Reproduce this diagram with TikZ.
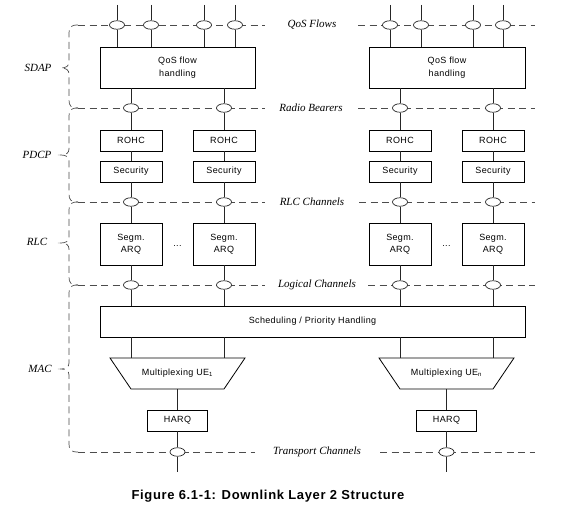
\documentclass[tikz,border=0pt]{standalone}
\usepackage{fontspec}
\setmainfont{Liberation Serif}
\newfontfamily\boxfont[LetterSpace=4]{Liberation Sans}
\newfontfamily\capfont[LetterSpace=5]{Liberation Sans}
\usetikzlibrary{backgrounds,calc,shapes.geometric}
\newcommand\mybrace[3]{%
  \draw[chan] (78,#1) .. controls (71,#1) and (69,#1+2) .. (69,#1+8) -- (69,#2-6)
    .. controls (69,#2-2) and (66,#2) .. (61,#2)
    .. controls (66,#2) and (69,#2+2) .. (69,#2+6) -- (69,#3-8)
    .. controls (69,#3-2) and (71,#3) .. (78,#3);}
\begin{document}
\begin{tikzpicture}[x=1pt,y=-1pt,
  box/.style={draw=black, line width=0.8pt, fill=white, inner sep=0pt, align=center,
    font=\boxfont\fontsize{9}{12.5}\selectfont},
  oval/.style={ellipse, draw=black!85, line width=0.7pt, fill=white,
    minimum width=15pt, minimum height=8.5pt, inner sep=0pt},
  conn/.style={draw=black!85, line width=0.7pt},
  chan/.style={draw=black!70, line width=0.7pt, dash pattern=on 7pt off 4.5pt},
  lbl/.style={font=\itshape\fontsize{11}{13}\selectfont, inner sep=0pt},
  boxtxt/.style={font=\boxfont\fontsize{9}{12}\selectfont, inner sep=0pt},
]
\useasboundingbox (0,0) rectangle (581,510);

% ---- boxes ----
\node[box, minimum width=155pt, minimum height=41pt] (qosL) at (177.5,67.5) {QoS flow\\handling};
\node[box, minimum width=156pt, minimum height=41pt] (qosR) at (447,67.5) {QoS flow\\handling};
\foreach \i/\x in {1/131,2/224,3/400,4/493}{
  \node[box, minimum width=62pt, minimum height=21pt] (rohc\i) at (\x,140.5) {ROHC};
  \node[box, minimum width=62pt, minimum height=21pt] (sec\i) at (\x,171.5) {Security};
  \node[box, minimum width=62pt, minimum height=42pt] (seg\i) at (\x,244) {Segm.\\ARQ};
}
\node[boxtxt] (dots1) at (177.5,246) {...};
\node[boxtxt] (dots2) at (446.5,246) {...};
\node[box, minimum width=425pt, minimum height=31pt] (sched) at (312.5,321.5) {Scheduling / Priority Handling};

% multiplexing trapeziums
\node[boxtxt] (mux1) at (177.5,373.5) {Multiplexing UE\textsubscript{1}};
\node[boxtxt] (mux2) at (446.5,373.5) {Multiplexing UE\textsubscript{n}};
\foreach \m in {mux1,mux2}{
  \draw[line width=0.8pt] ($(\m)+(-67.5,-15.5)$) -- ($(\m)+(67.5,-15.5)$)
     -- ($(\m)+(46.5,15.5)$) -- ($(\m)+(-46.5,15.5)$) -- cycle;
}
\coordinate (m1t) at (177.5,358);
\coordinate (m1b) at (177.5,389);
\coordinate (m2t) at (446.5,358);
\coordinate (m2b) at (446.5,389);

\node[box, minimum width=60pt, minimum height=21pt] (harq1) at (177.5,420.5) {HARQ};
\node[box, minimum width=60pt, minimum height=21pt] (harq2) at (446.5,420.5) {HARQ};

% ---- ovals ----
\foreach \n/\x in {f1/117,f2/151,f3/204,f4/235,f5/390,f6/421,f7/473,f8/503}{
  \node[oval] (\n) at (\x,25) {};
  \coordinate (\n t) at (\x,5);
}
\foreach \i/\x in {1/131,2/224,3/400,4/493}{
  \node[oval] (rb\i) at (\x,108) {};
  \node[oval] (rl\i) at (\x,202) {};
  \node[oval] (lc\i) at (\x,285) {};
}
\node[oval] (tc1) at (177.5,452) {};
\node[oval] (tc2) at (446.5,452) {};
\coordinate (tc1b) at (177.5,472);
\coordinate (tc2b) at (446.5,472);

% ---- channel labels ----
\node[lbl] (lq) at (312,25) {QoS Flows};
\node[lbl] (lr) at (311,108) {Radio Bearers};
\node[lbl] (lrl) at (312,202) {RLC Channels};
\node[lbl] (ll) at (317,285) {Logical Channels};
\node[lbl] (lt) at (317,452) {Transport Channels};

\node[lbl] (sdap) at (38,68) {SDAP};
\node[lbl] (pdcp) at (37,155) {PDCP};
\node[lbl] (rlc) at (37,242) {RLC};
\node[lbl] (mac) at (40,369) {MAC};

% ---- connectors ----
\foreach \n in {f1,f2,f3,f4}{
  \draw[conn] (\n t) -- (\n); \draw[conn] (\n) -- (\n |- qosL.north);
}
\foreach \n in {f5,f6,f7,f8}{
  \draw[conn] (\n t) -- (\n); \draw[conn] (\n) -- (\n |- qosR.north);
}
\foreach \i in {1,2}{\draw[conn] (qosL.south -| rb\i) -- (rb\i);}
\foreach \i in {3,4}{\draw[conn] (qosR.south -| rb\i) -- (rb\i);}
\foreach \i in {1,2,3,4}{
  \draw[conn] (rb\i) -- (rohc\i);
  \draw[conn] (rohc\i) -- (sec\i);
  \draw[conn] (sec\i) -- (rl\i);
  \draw[conn] (rl\i) -- (seg\i);
  \draw[conn] (seg\i) -- (lc\i);
  \draw[conn] (lc\i) -- (sched.north -| lc\i);
}
\foreach \i in {1,2}{\draw[conn] (sched.south -| lc\i) -- (lc\i |- m1t);}
\foreach \i in {3,4}{\draw[conn] (sched.south -| lc\i) -- (lc\i |- m2t);}
\draw[conn] (m1b) -- (harq1);
\draw[conn] (m2b) -- (harq2);
\draw[conn] (harq1) -- (tc1);
\draw[conn] (harq2) -- (tc2);
\draw[conn] (tc1) -- (tc1b);
\draw[conn] (tc2) -- (tc2b);

% ---- dashed channel lines and layer braces ----
\begin{scope}[on background layer]
  \fill[white] (0,0) rectangle (581,510);
  \foreach \y/\s in {25/358,108/358,202/359,285/368}{
    \draw[chan] (78,\y) -- (265,\y);
    \draw[chan] (\s,\y) -- (535,\y);
  }
  \draw[chan] (78,452) -- (255,452);
  \draw[chan] (380,452) -- (535,452);
  \mybrace{25}{68}{108}
  \mybrace{108}{155}{202}
  \mybrace{202}{243}{285}
  \mybrace{285}{369}{452}
\end{scope}

% ---- caption ----
\node[font=\capfont\bfseries\fontsize{13}{15}\selectfont, inner sep=0pt] (cap) at (268,496)
  {Figure 6.1-1: Downlink Layer 2 Structure};
\end{tikzpicture}
\end{document}
